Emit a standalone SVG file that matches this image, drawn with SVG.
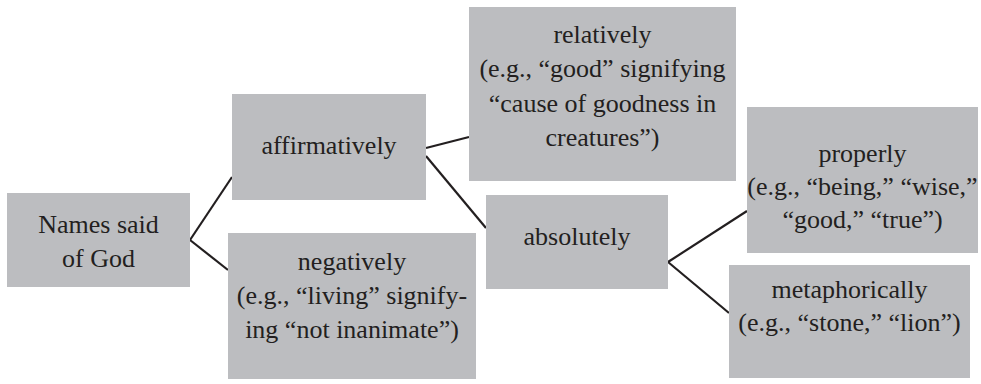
<svg xmlns="http://www.w3.org/2000/svg" width="981" height="384" viewBox="0 0 981 384">
<style>
.box{fill:#bcbdc0}
.t{font-family:'Liberation Serif','Times New Roman',serif;font-size:26px;fill:#231f20;text-anchor:middle}
.c{stroke:#231f20;stroke-width:2.2;fill:none}
</style>
<rect width="981" height="384" fill="#ffffff"/>
<g id="connectors">
<line class="c" x1="190" y1="240" x2="232" y2="177"/>
<line class="c" x1="190" y1="240" x2="228" y2="270"/>
<line class="c" x1="426" y1="148" x2="469" y2="137"/>
<line class="c" x1="426" y1="156" x2="486" y2="228"/>
<line class="c" x1="668" y1="262" x2="747" y2="211"/>
<line class="c" x1="668" y1="262" x2="729" y2="313"/>
</g>
<g id="n1">
<rect class="box" x="7" y="193" width="183" height="94"/>
<text class="t" x="98.5" y="233">Names said</text>
<text class="t" x="98.5" y="267">of God</text>
</g>
<g id="n2">
<rect class="box" x="232" y="94" width="194" height="106"/>
<text class="t" x="329" y="154">affirmatively</text>
</g>
<g id="n3">
<rect class="box" x="228" y="233" width="248" height="146"/>
<text class="t" x="352" y="270">negatively</text>
<text class="t" x="352" y="304">(e.g., “living” signify-</text>
<text class="t" x="352" y="338">ing “not inanimate”)</text>
</g>
<g id="n4">
<rect class="box" x="469" y="7" width="267" height="174"/>
<text class="t" x="602.5" y="43">relatively</text>
<text class="t" x="602.5" y="77">(e.g., “good” signifying</text>
<text class="t" x="602.5" y="112">“cause of goodness in</text>
<text class="t" x="602.5" y="146">creatures”)</text>
</g>
<g id="n5">
<rect class="box" x="486" y="195" width="182" height="94"/>
<text class="t" x="577" y="245">absolutely</text>
</g>
<g id="n6">
<rect class="box" x="747" y="107" width="231" height="146"/>
<text class="t" x="862.5" y="162">properly</text>
<text class="t" x="862.5" y="195">(e.g., “being,” “wise,”</text>
<text class="t" x="862.5" y="228">“good,” “true”)</text>
</g>
<g id="n7">
<rect class="box" x="729" y="265" width="241" height="113"/>
<text class="t" x="849.5" y="298">metaphorically</text>
<text class="t" x="849.5" y="331">(e.g., “stone,” “lion”)</text>
</g>
</svg>
